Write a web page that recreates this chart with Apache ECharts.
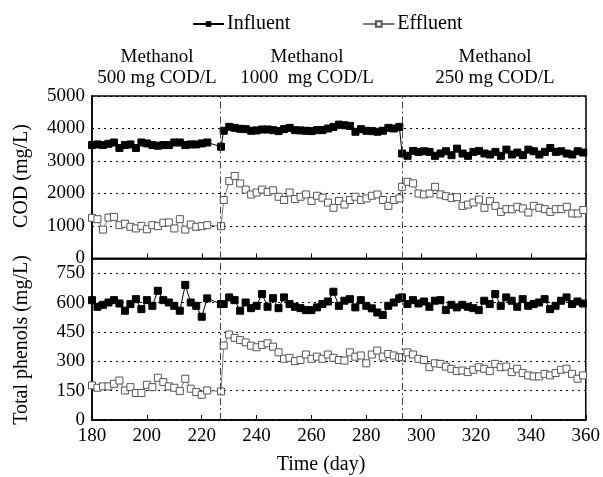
<!DOCTYPE html>
<html><head><meta charset="utf-8">
<script src="https://cdn.jsdelivr.net/npm/echarts@6/dist/echarts.min.js"></script>
<style>html,body{margin:0;padding:0;background:#fff}#c{width:603px;height:477px}</style>
</head><body><div id="c"></div>
<script>
const days = [180,182,184,186,188,190,192,194,196,198,200,202,204,206,208,210,212,214,216,218,220,222,
  227,
  228,230,232,234,236,238,240,242,244,246,248,250,252,254,256,258,260,262,264,266,268,270,272,274,276,278,280,282,284,286,288,290,292,
  293,295,297,299,301,303,305,307,309,311,313,315,317,319,321,323,325,327,329,331,333,335,337,339,341,343,345,347,349,351,353,355,357,359];

const codInfluent = [3490,3510,3490,3530,3570,3400,3490,3510,3400,3570,3540,3490,3470,3490,3490,3570,3570,3490,3510,3510,3540,3570,
  3440,
  3930,4050,4020,3990,3980,3930,3940,3970,3970,3950,3920,3980,4020,3950,3940,3930,3920,3950,3950,4000,4050,4120,4100,4080,3900,3980,3930,3920,3900,3930,4020,4000,4050,
  3230,3160,3310,3280,3300,3280,3160,3230,3300,3180,3380,3230,3160,3280,3310,3230,3200,3280,3160,3350,3200,3260,3180,3350,3300,3200,3280,3400,3280,3300,3230,3200,3300,3260];

const codEffluent = [1250,1210,890,1260,1280,1025,1070,975,925,1005,900,1025,995,1100,1110,925,1210,890,1045,975,995,1025,
  995,
  1800,2380,2540,2310,2120,1970,2030,2120,2050,2100,1900,1800,2030,1830,1900,1970,1770,1930,1870,1720,1560,1770,1660,1800,1900,1800,1850,1930,1970,1800,1620,1800,1850,
  2205,2360,2310,2000,1970,2000,2205,1970,1918,1865,1887,1620,1660,1723,1815,1560,1765,1620,1435,1518,1518,1590,1540,1415,1620,1560,1518,1435,1518,1518,1590,1385,1385,1490];

const phenInfluent = [613,579,589,601,613,596,559,593,618,567,613,584,661,613,601,584,559,691,601,584,528,622,
  593,
  593,627,613,559,601,572,584,644,579,623,572,627,593,579,572,562,562,576,593,606,656,584,610,618,576,613,584,571,550,537,584,601,622,
  627,593,613,596,606,579,610,613,562,589,576,589,579,572,562,610,593,644,584,627,610,579,618,584,593,601,618,567,584,610,627,593,606,596];

const phenEffluent = [177,165,172,172,185,202,151,168,138,138,180,168,216,194,172,165,148,211,160,143,129,151,
  146,
  381,437,420,409,397,380,372,384,392,375,346,313,318,301,307,335,313,324,313,335,318,307,304,346,324,330,290,335,355,324,338,330,321,
  321,346,335,313,307,270,290,287,273,262,250,253,245,257,270,262,250,287,270,273,245,262,240,228,223,223,236,228,240,257,262,236,211,228];

const xTicks = [180,200,220,240,260,280,300,320,340,360];
const codTicks = [0,1000,2000,3000,4000,5000];
const phenTicks = [0,150,300,450,600,750];
const phaseDays = [226.8, 293.2];
const phaseLabels = [
  ['Methanol','500 mg COD/L'],
  ['Methanol','1000  mg COD/L'],
  ['Methanol','250 mg COD/L']
];
const legendNames = ['Influent','Effluent'];

const FONT = '"Liberation Serif","Times New Roman",serif';
const chart = echarts.init(document.getElementById('c'), null, {renderer:'canvas'});

function pairs(ys){ return days.map((d,i)=>[d, ys[i]]); }

const gridL = 92, gridR = 17;
const xBase = (gi, showLabel) => ({
  type:'value', gridIndex: gi, min: xTicks[0], max: xTicks[xTicks.length-1], interval: 20,
  axisLine:{show:true, lineStyle:{color:'#000', width:1.5}},
  axisTick:{show:true, inside:true, length:5, lineStyle:{color:'#000'}},
  axisLabel:{show:showLabel, color:'#000', fontSize:19, fontFamily:FONT, margin:7, formatter: v => String(v)},
  splitLine:{show:false}
});
const yBase = (gi, max, interval, ticks) => ({
  type:'value', gridIndex: gi, min: 0, max: max, interval: interval,
  axisLine:{show:true, lineStyle:{color:'#000', width:1.5}},
  axisTick:{show:false},
  axisLabel:{color:'#000', fontSize:19, fontFamily:FONT, margin:7,
    formatter: v => (ticks.indexOf(v) >= 0 ? String(v) : '')},
  splitLine:{show:true, lineStyle:{color:'#000', type:[2,4], width:1}}
});

const markLines = {
  silent:true, symbol:'none', label:{show:false},
  lineStyle:{color:'#444', type:[7,3,2,3], width:1},
  data: phaseDays.map(d=>({xAxis:d}))
};

const inflStyle = {
  type:'line', symbol:'rect', symbolSize:7,
  itemStyle:{color:'#000', borderColor:'#000'},
  lineStyle:{color:'#000', width:1}
};
const effStyle = {
  type:'line', symbol:'rect', symbolSize:7,
  itemStyle:{color:'#fff', borderColor:'#555', borderWidth:1},
  lineStyle:{color:'#777', width:1}
};

const graphics = [];
const centers = [157, 307, 495];
phaseLabels.forEach((lab, i)=>{
  graphics.push({type:'text', x:centers[i], y:57, style:{text:lab[0], font:'19px '+FONT, fill:'#000', textAlign:'center', textVerticalAlign:'middle'}});
  graphics.push({type:'text', x:centers[i], y:78, style:{text:lab[1], font:'19px '+FONT, fill:'#000', textAlign:'center', textVerticalAlign:'middle'}});
});
graphics.push({type:'text', x:22, y:176, rotation:Math.PI/2, style:{text:'COD (mg/L)', font:'20px '+FONT, fill:'#000', textAlign:'center', textVerticalAlign:'middle'}});
graphics.push({type:'text', x:22, y:340, rotation:Math.PI/2, style:{text:'Total phenols (mg/L)', font:'20px '+FONT, fill:'#000', textAlign:'center', textVerticalAlign:'middle'}});
graphics.push({type:'text', x:321, y:465, style:{text:'Time (day)', font:'20px '+FONT, fill:'#000', textAlign:'center', textVerticalAlign:'middle'}});

chart.setOption({
  animation:false,
  backgroundColor:'#fff',
  legend:{
    data: legendNames, top:9, left:187, itemWidth:31, itemHeight:7, itemGap:72,
    textStyle:{fontSize:20, fontFamily:FONT, color:'#000', padding:[0,0,0,-2]}
  },
  grid:[
    {left:gridL, right:gridR, top:96, height:162.5, show:true, borderColor:'#000', borderWidth:1.5},
    {left:gridL, right:gridR, top:258.5, height:161.5, show:true, borderColor:'#000', borderWidth:1.5}
  ],
  xAxis:[xBase(0,false), xBase(1,true)],
  yAxis:[yBase(0, codTicks[codTicks.length-1], 1000, codTicks), yBase(1, 826, 150, phenTicks)],
  graphic: graphics,
  series:[
    Object.assign({name:legendNames[0], xAxisIndex:0, yAxisIndex:0, data:pairs(codInfluent), markLine:markLines, z:3}, inflStyle),
    Object.assign({name:legendNames[1], xAxisIndex:0, yAxisIndex:0, data:pairs(codEffluent), z:2}, effStyle),
    Object.assign({name:legendNames[0], xAxisIndex:1, yAxisIndex:1, data:pairs(phenInfluent), markLine:markLines, z:3}, inflStyle),
    Object.assign({name:legendNames[1], xAxisIndex:1, yAxisIndex:1, data:pairs(phenEffluent), z:2}, effStyle)
  ]
});
</script></body></html>
